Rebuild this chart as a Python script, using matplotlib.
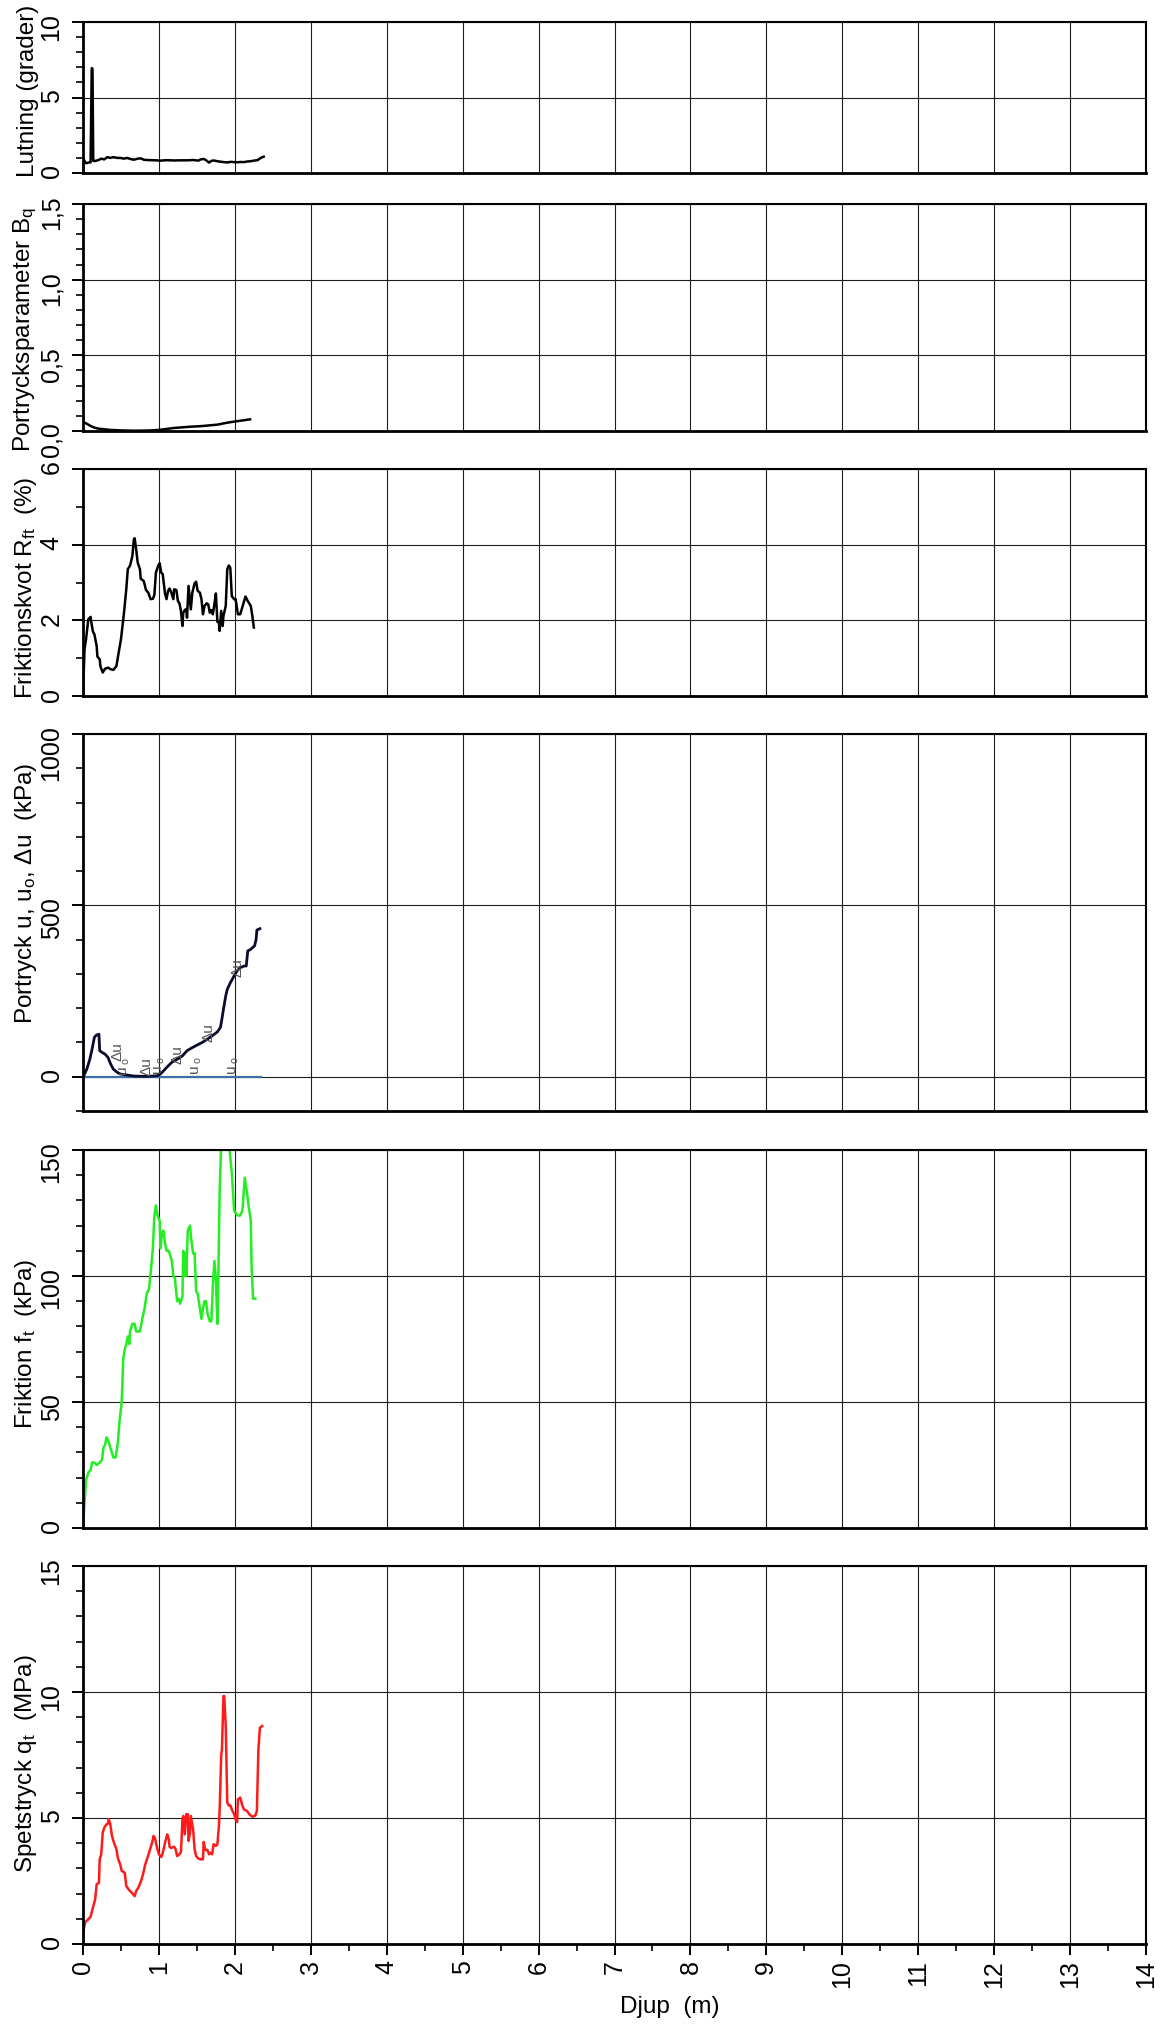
import matplotlib
matplotlib.use("Agg")
import matplotlib.pyplot as plt
from matplotlib.ticker import MultipleLocator, FuncFormatter

plt.rcParams['font.family'] = ['Liberation Sans', 'DejaVu Sans']
plt.rcParams['mathtext.fontset'] = 'custom'
plt.rcParams['mathtext.rm'] = 'Liberation Sans'
plt.rcParams['mathtext.it'] = 'Liberation Sans:italic'
plt.rcParams['mathtext.default'] = 'regular'

# ---- sounding data (depth in m) ----
lutning_depth = [0.00, 0.02, 0.04, 0.08, 0.10, 0.115, 0.125, 0.135, 0.16, 0.20, 0.24, 0.28,
                 0.32, 0.36, 0.40, 0.45, 0.49, 0.54, 0.58, 0.63, 0.67, 0.72, 0.76, 0.80,
                 0.84, 0.90, 0.96, 1.02, 1.10, 1.20, 1.28, 1.37, 1.45, 1.52, 1.55, 1.59,
                 1.62, 1.66, 1.69, 1.72, 1.77, 1.81, 1.86, 1.90, 1.95, 1.99, 2.04, 2.07,
                 2.12, 2.16, 2.21, 2.25, 2.30, 2.34, 2.38]
lutning = [1.0, 0.8, 0.65, 0.7, 0.7, 6.95, 6.9, 0.8, 0.8, 0.85, 0.95, 0.9,
           1.05, 1.0, 1.05, 1.0, 1.0, 0.95, 1.0, 0.92, 0.88, 0.95, 0.97, 0.88,
           0.86, 0.85, 0.84, 0.82, 0.85, 0.83, 0.84, 0.84, 0.86, 0.82, 0.9, 0.93,
           0.85, 0.69, 0.8, 0.83, 0.78, 0.75, 0.72, 0.7, 0.74, 0.72, 0.71, 0.73,
           0.72, 0.76, 0.78, 0.82, 0.85, 1.0, 1.08]

bq_depth = [0.0, 0.05, 0.10, 0.15, 0.21, 0.36, 0.50, 0.67, 0.85, 1.0, 1.2, 1.4,
            1.55, 1.77, 1.9, 1.99, 2.2]
bq = [0.06, 0.048, 0.033, 0.022, 0.015, 0.007, 0.004, 0.002, 0.003, 0.007, 0.02, 0.028,
      0.032, 0.042, 0.055, 0.062, 0.077]

rf_depth = [0.00, 0.02, 0.04, 0.07, 0.10, 0.11, 0.13, 0.15, 0.18, 0.19, 0.22, 0.23,
            0.26, 0.29, 0.33, 0.36, 0.40, 0.44, 0.47, 0.50, 0.54, 0.57, 0.59, 0.62,
            0.65, 0.67, 0.68, 0.70, 0.72, 0.75, 0.76, 0.80, 0.83, 0.86, 0.89, 0.92,
            0.94, 0.96, 0.99, 1.01, 1.03, 1.05, 1.08, 1.10, 1.12, 1.14, 1.16, 1.19,
            1.20, 1.23, 1.25, 1.27, 1.29, 1.31, 1.32, 1.34, 1.36, 1.37, 1.39, 1.42,
            1.44, 1.47, 1.49, 1.51, 1.54, 1.56, 1.58, 1.60, 1.63, 1.65, 1.67, 1.69,
            1.71, 1.74, 1.75, 1.77, 1.79, 1.80, 1.82, 1.84, 1.85, 1.88, 1.90, 1.92,
            1.94, 1.96, 1.99, 2.01, 2.04, 2.07, 2.09, 2.14, 2.17, 2.21, 2.23, 2.25]
rf = [0.0, 1.24, 1.5, 2.03, 2.09, 1.94, 1.71, 1.63, 1.32, 1.04, 0.97, 0.78,
      0.62, 0.72, 0.75, 0.71, 0.69, 0.79, 1.15, 1.5, 2.2, 2.82, 3.35, 3.45,
      3.7, 4.14, 4.17, 3.88, 3.53, 3.35, 3.1, 3.04, 2.8, 2.73, 2.56, 2.57,
      2.67, 3.26, 3.44, 3.51, 3.26, 3.22, 2.71, 2.56, 2.78, 2.84, 2.75, 2.56,
      2.82, 2.8, 2.51, 2.45, 2.25, 1.85, 2.2, 2.27, 2.3, 2.07, 2.91, 2.29,
      2.73, 2.98, 3.02, 2.78, 2.73, 2.56, 2.16, 2.38, 2.45, 2.42, 2.2, 2.27,
      2.16, 2.56, 2.71, 1.96, 1.94, 1.72, 2.25, 1.85, 2.12, 2.38, 3.35, 3.45,
      3.39, 2.64, 2.56, 2.56, 2.16, 2.16, 2.29, 2.63, 2.51, 2.38, 2.12, 1.81]

u_depth = [0.00, 0.01, 0.05, 0.09, 0.12, 0.15, 0.18, 0.21, 0.22, 0.25, 0.29, 0.33,
           0.36, 0.40, 0.45, 0.49, 0.58, 0.67, 0.84, 0.98, 1.02, 1.06, 1.11, 1.17,
           1.24, 1.31, 1.37, 1.44, 1.50, 1.57, 1.64, 1.70, 1.77, 1.81, 1.83, 1.85,
           1.88, 1.90, 1.94, 1.99, 2.03, 2.07, 2.12, 2.15, 2.17, 2.21, 2.26, 2.28,
           2.29, 2.33]
u = [0, 3, 22, 51, 81, 115, 122, 124, 76, 71, 66, 56,
     39, 22, 13, 8, 5, 2, 1, 3, 8, 17, 29, 42,
     51, 61, 76, 85, 92, 100, 110, 119, 131, 144, 169, 197,
     236, 255, 274, 294, 309, 318, 323, 323, 367, 372, 382, 401,
     428, 432]

u0_depth = [0.0, 2.35]
u0 = [0, 0]

# labels written along the pore pressure curve
u_tag_depth = [0.46, 0.55, 0.84, 1.01, 1.24, 1.50, 1.65, 1.98, 2.04]
u_tag_value = [76, 32, 32, 35, 67, 35, 131, 35, 320]
u_tag_text = ['Δu', 'u$_{\\ o}$', 'Δu', 'u$_{\\ o}$', 'Δu', 'u$_{\\ o}$', 'Δu', 'u$_{\\ o}$', 'Δu']

f_depth = [0.00, 0.02, 0.04, 0.07, 0.10, 0.12, 0.15, 0.18, 0.22, 0.25, 0.27, 0.29,
           0.31, 0.34, 0.37, 0.40, 0.43, 0.46, 0.48, 0.51, 0.53, 0.55, 0.57, 0.59,
           0.61, 0.62, 0.65, 0.68, 0.70, 0.75, 0.78, 0.81, 0.84, 0.87, 0.90, 0.92,
           0.94, 0.96, 0.98, 1.01, 1.02, 1.04, 1.06, 1.08, 1.10, 1.13, 1.16, 1.17,
           1.19, 1.21, 1.24, 1.26, 1.28, 1.31, 1.32, 1.33, 1.35, 1.36, 1.37, 1.38,
           1.41, 1.42, 1.45, 1.47, 1.49, 1.51, 1.53, 1.56, 1.58, 1.60, 1.62, 1.64,
           1.67, 1.69, 1.71, 1.73, 1.75, 1.77, 1.78, 1.80, 1.82, 1.86, 1.89, 1.93,
           1.96, 1.99, 2.01, 2.04, 2.07, 2.10, 2.13, 2.16, 2.18, 2.21, 2.22, 2.24,
           2.27]
f = [0, 10, 19, 22, 23, 26, 26, 25, 26, 27, 32, 33,
     36, 34, 31, 28, 28, 34, 42, 50, 67, 71, 73, 76,
     73, 78, 81, 81, 78, 78, 83, 87, 93, 95, 104, 111,
     124, 128, 124, 122, 111, 117, 118, 113, 110, 110, 107, 106,
     100, 99, 90, 91, 89, 92, 110, 100, 109, 100, 109, 118,
     120, 116, 109, 109, 94, 93, 89, 83, 87, 90, 90, 85,
     82, 82, 96, 106, 99, 81, 95, 134, 152, 186, 175, 150,
     141, 126, 125, 124, 124, 126, 139, 133, 128, 122, 104, 91,
     91]

qt_depth = [0.00, 0.01, 0.03, 0.06, 0.10, 0.13, 0.16, 0.18, 0.21, 0.22, 0.24, 0.26,
            0.28, 0.31, 0.33, 0.34, 0.36, 0.38, 0.40, 0.44, 0.46, 0.49, 0.51, 0.55,
            0.57, 0.60, 0.64, 0.68, 0.70, 0.73, 0.76, 0.79, 0.82, 0.85, 0.89, 0.91,
            0.93, 0.95, 0.98, 1.00, 1.03, 1.05, 1.08, 1.11, 1.13, 1.14, 1.16, 1.20,
            1.22, 1.24, 1.27, 1.29, 1.31, 1.32, 1.34, 1.36, 1.38, 1.39, 1.41, 1.42,
            1.45, 1.47, 1.49, 1.52, 1.55, 1.58, 1.59, 1.61, 1.64, 1.66, 1.68, 1.70,
            1.72, 1.75, 1.77, 1.79, 1.80, 1.82, 1.83, 1.85, 1.86, 1.88, 1.90, 1.92,
            1.94, 1.96, 1.99, 2.01, 2.03, 2.04, 2.07, 2.10, 2.12, 2.16, 2.19, 2.23,
            2.27, 2.29, 2.31, 2.33, 2.36]
qt = [0.19, 0.58, 0.87, 0.95, 1.08, 1.44, 1.77, 2.37, 2.43, 3.36, 3.56, 4.42,
      4.62, 4.75, 4.78, 4.95, 4.75, 4.31, 4.09, 3.76, 3.4, 3.16, 2.9, 2.83,
      2.3, 2.17, 2.04, 1.9, 2.1, 2.24, 2.46, 2.76, 3.16, 3.43, 3.82, 4.02,
      4.29, 4.18, 3.76, 3.56, 3.45, 3.6, 4.02, 4.35, 4.15, 3.86, 3.81, 3.86,
      3.76, 3.49, 3.56, 3.65, 4.95, 5.08, 4.35, 5.15, 5.15, 4.09, 4.42, 5.08,
      4.55, 3.76, 3.49, 3.39, 3.36, 3.36, 4.05, 3.73, 3.73, 3.56, 3.62, 3.56,
      3.96, 3.89, 3.96, 4.68, 5.34, 7.46, 7.73, 9.84, 9.84, 8.65, 5.61, 5.5,
      5.5, 5.34, 5.15, 4.95, 4.84, 5.74, 5.81, 5.48, 5.34, 5.28, 5.15, 5.05,
      5.1, 5.28, 7.73, 8.58, 8.65]

depth_ticks = list(range(0, 15))

# ---- figure layout (pixel boxes: top, bottom) ----
W, H = 1160, 2033
LEFT, RIGHT = 83, 1146
boxes = [(23, 174), (205, 432), (470, 697), (735, 1112), (1151, 1529), (1567, 1945)]

fig = plt.figure(figsize=(W / 100, H / 100), dpi=100)
fig.patch.set_facecolor('white')

comma = FuncFormatter(lambda v, p: f'{v:.1f}'.replace('.', ','))
plain = FuncFormatter(lambda v, p: f'{v:.0f}')

panels = [
    dict(ylim=(0, 10), major=5, minor=1, fmt=plain, label='Lutning (grader)', ly=0.55),
    dict(ylim=(0, 1.5), major=0.5, minor=0.1, fmt=comma,
         label='Portrycksparameter B$_{q}$', ly=0.45),
    dict(ylim=(0, 6), major=2, minor=1, fmt=plain,
         label='Friktionskvot R$_{ft}$  (%)', ly=0.48),
    dict(ylim=(-100, 1000), major=500, minor=100, fmt=plain,
         label='Portryck u, u$_{o}$, Δu  (kPa)', ly=0.58),
    dict(ylim=(0, 150), major=50, minor=10, fmt=plain,
         label='Friktion f$_{t}$  (kPa)', ly=0.49),
    dict(ylim=(0, 15), major=5, minor=1, fmt=plain,
         label='Spetstryck q$_{t}$  (MPa)', ly=0.48),
]

axes = []
for (top, bot), spec in zip(boxes, panels):
    ax = fig.add_axes([LEFT / W, (H - bot) / H, (RIGHT - LEFT) / W, (bot - top) / H])
    ax.set_xlim(0, 14)
    ax.set_ylim(*spec['ylim'])
    ax.yaxis.set_major_locator(MultipleLocator(spec['major']))
    ax.yaxis.set_minor_locator(MultipleLocator(spec['minor']))
    ax.yaxis.set_major_formatter(spec['fmt'])
    ax.set_xticks(depth_ticks)
    ax.xaxis.set_minor_locator(MultipleLocator(0.5))
    ax.grid(True, which='major', color='#1e1e1e', linewidth=0.8)
    ax.set_axisbelow(True)
    ax.tick_params(axis='y', which='major', direction='out', length=8, width=1.4,
                   labelsize=18, labelrotation=90, pad=6)
    ax.tick_params(axis='y', which='minor', direction='out', length=5, width=1.2)
    ax.tick_params(axis='x', which='both', bottom=False, labelbottom=False)
    for side in ('left', 'bottom'):
        ax.spines[side].set_linewidth(2.0)
    for side in ('top', 'right'):
        ax.spines[side].set_linewidth(1.5)
    ax.set_ylabel(spec['label'], fontsize=17.5)
    ax.yaxis.set_label_coords(-0.041, spec['ly'])
    axes.append(ax)

a1, a2, a3, a4, a5, a6 = axes

a1.plot(lutning_depth, lutning, color='black', linewidth=1.8)
a2.plot(bq_depth, bq, color='black', linewidth=1.8)
a3.plot(rf_depth, rf, color='black', linewidth=1.8)
a4.plot(u0_depth, u0, color='#3d6fa8', linewidth=1.6)
a4.plot(u_depth, u, color='#0b0b2e', linewidth=2.0)
for d, v, t in zip(u_tag_depth, u_tag_value, u_tag_text):
    a4.text(d, v, t, rotation=90, fontsize=11, color='#555555',
            ha='center', va='center')
a5.plot(f_depth, f, color='#22ee22', linewidth=1.8)
a6.plot(qt_depth, qt, color='#ff1a1a', linewidth=1.8)

a6.tick_params(axis='x', which='major', bottom=True, labelbottom=True, direction='out',
               length=8, width=1.4, labelsize=18, labelrotation=90, pad=3)
a6.tick_params(axis='x', which='minor', bottom=True, direction='out', length=5, width=1.2)
a6.set_xlabel('Djup  (m)', fontsize=17.5)
a6.xaxis.set_label_coords(0.552, -0.135)

fig.savefig('out.png', dpi=100)
